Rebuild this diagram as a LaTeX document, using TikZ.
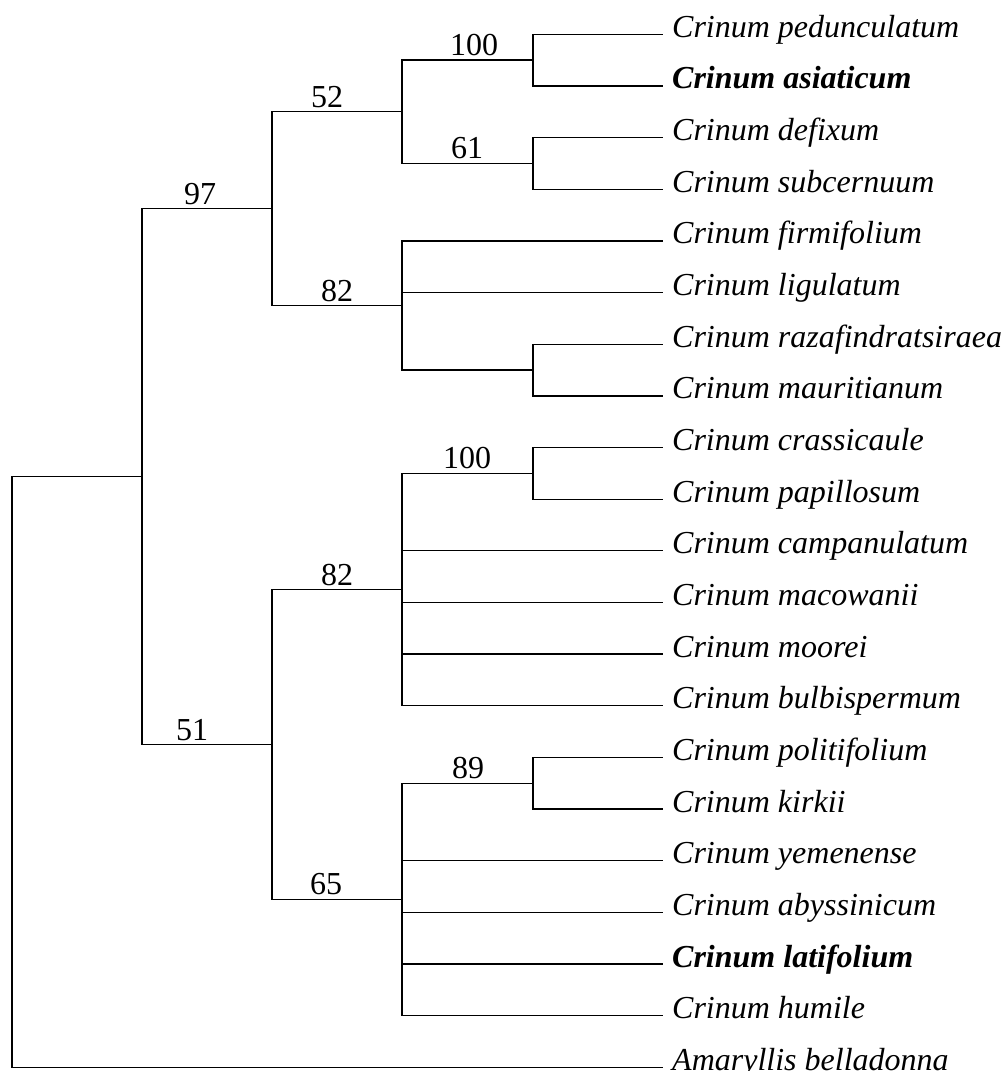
\documentclass[tikz,border=0pt]{standalone}
\usepackage{fontspec}
\setmainfont{Liberation Serif}
\usepackage{tikz}

\tikzset{
  branch/.style={black,line width=1.3pt},
  taxon/.style={anchor=base west,inner sep=0pt,font=\fontsize{32}{38}\selectfont\itshape},
  boot/.style={anchor=base,inner sep=0pt,font=\fontsize{32}{38}\selectfont}
}

\begin{document}
\begin{tikzpicture}[x=1pt,y=-1pt]
  \useasboundingbox (0,0) rectangle (1008,1071);
  \foreach \nm [count=\i] in {Crinum pedunculatum,{\textbf{Crinum asiaticum}},Crinum defixum,Crinum subcernuum,
      Crinum firmifolium,Crinum ligulatum,Crinum razafindratsiraea,Crinum mauritianum,
      Crinum crassicaule,Crinum papillosum,Crinum campanulatum,Crinum macowanii,Crinum moorei,
      Crinum bulbispermum,Crinum politifolium,Crinum kirkii,Crinum yemenense,Crinum abyssinicum,
      {\textbf{Crinum latifolium}},Crinum humile,Amaryllis belladonna}
  {
    \coordinate (t\i) at (663,{34.3+(\i-1)*51.65});
    \node [taxon] (s\i) at (672,{37.3+(\i-1)*51.65}) {\nm};
  }
  \coordinate (n100a) at (533,60.125);
  \coordinate (n61) at (533,163.425);
  \coordinate (n52) at (402,111.775);
  \coordinate (nraz) at (533,370.025);
  \coordinate (n82a) at (402,305.46);
  \coordinate (n97) at (272,208.62);
  \coordinate (n100b) at (533,473.325);
  \coordinate (n82b) at (402,589.54);
  \coordinate (n89) at (533,783.225);
  \coordinate (n65) at (402,899.44);
  \coordinate (n51) at (272,744.49);
  \coordinate (ing) at (142,476.56);
  \coordinate (root) at (12,476.56);
  \foreach \p/\c in {ing/n97,ing/n51,n97/n52,n97/n82a,n52/n100a,n52/n61,
      n100a/t1,n100a/t2,n61/t3,n61/t4,n82a/t5,n82a/t6,n82a/nraz,nraz/t7,nraz/t8,
      n51/n82b,n51/n65,n82b/n100b,n100b/t9,n100b/t10,n82b/t11,n82b/t12,n82b/t13,n82b/t14,
      n65/n89,n89/t15,n89/t16,n65/t17,n65/t18,n65/t19,n65/t20}
    \draw [branch] (\p) |- (\c);
  \draw [branch] (ing) -- (root) |- (t21);
  \node [boot] (b97) at (200,204.1) {97};
  \node [boot] (b52) at (327,107.3) {52};
  \node [boot] (b100a) at (474,55.6) {100};
  \node [boot] (b61) at (467,158.9) {61};
  \node [boot] (b82a) at (337,301.0) {82};
  \node [boot] (b100b) at (467,468.8) {100};
  \node [boot] (b82b) at (337,585.0) {82};
  \node [boot] (b51) at (192,740.0) {51};
  \node [boot] (b89) at (468,778.7) {89};
  \node [boot] (b65) at (326,894.9) {65};
\end{tikzpicture}
\end{document}
